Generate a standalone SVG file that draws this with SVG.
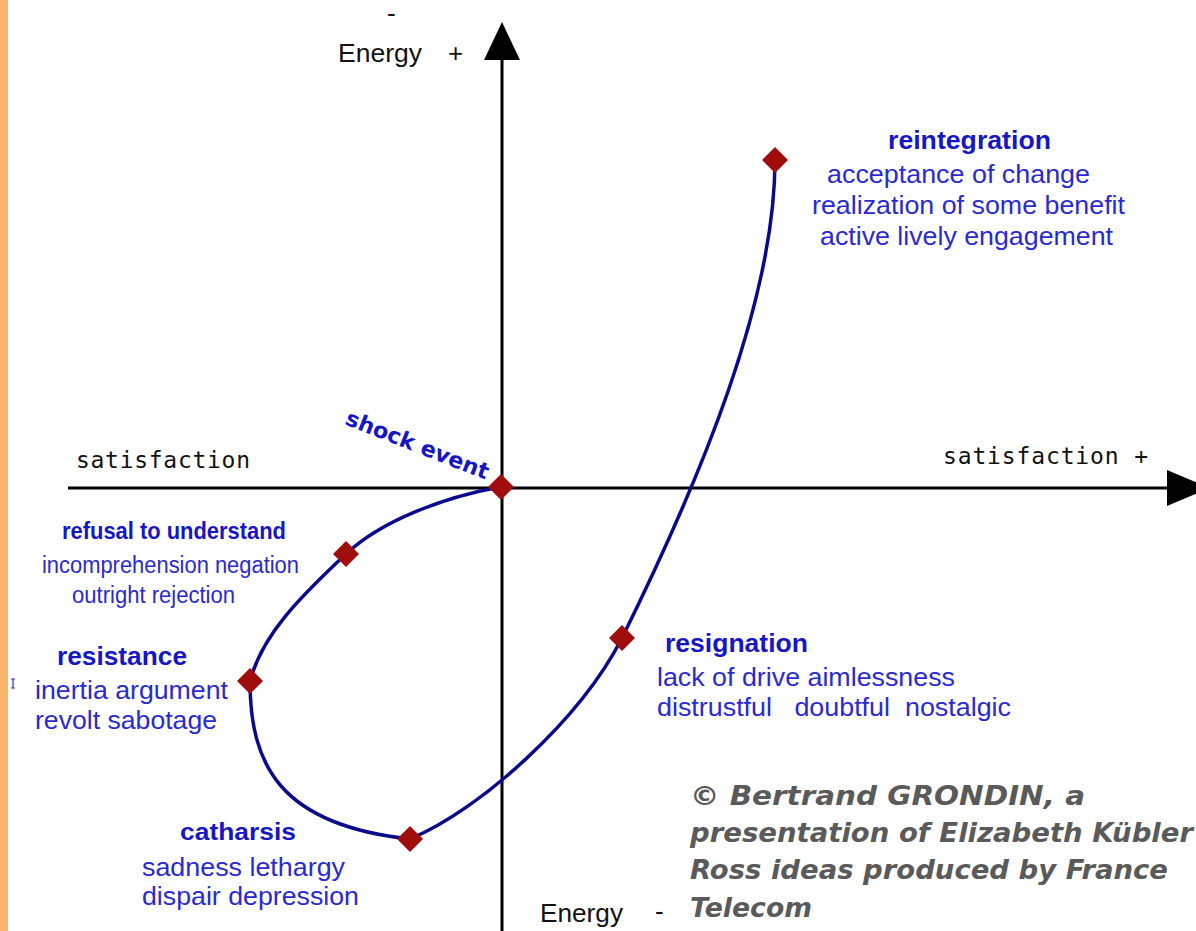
<svg xmlns="http://www.w3.org/2000/svg" width="1196" height="931" viewBox="0 0 1196 931">
  <style>
    .axis { stroke: #000; stroke-width: 3; fill: none; }
    .curve { stroke: #0a0a8c; stroke-width: 3.5; fill: none; }
    .dia { fill: #a00d0d; }
    .head { font-family: "Liberation Sans", Arial, sans-serif; font-weight: bold; fill: #1616c4; }
    .body { font-family: "Liberation Sans", Arial, sans-serif; fill: #2a2ad2; }
    .mono { font-family: "DejaVu Sans Mono", "Liberation Mono", monospace; font-size: 23px; fill: #111; }
    .ax { font-family: "Liberation Sans", Arial, sans-serif; font-size: 26px; fill: #111; }
    .copy { font-family: "DejaVu Sans", "Liberation Sans", sans-serif; font-weight: bold; font-style: italic; font-size: 27px; fill: #5a5a5a; }
    .shock { font-family: "DejaVu Sans", sans-serif; font-weight: bold; font-size: 22px; fill: #1616c4; }
  </style>
  <defs>
    <path id="d" d="M0,-13 L13,0 L0,13 L-13,0 Z"/>
  </defs>
  <rect x="0" y="0" width="1196" height="931" fill="#ffffff"/>
  <rect x="0" y="0" width="8" height="931" fill="#f7b26c"/>

  <g id="axes">
    <line class="axis" x1="502" y1="55" x2="502" y2="931"/>
    <polygon points="502,22 520,60 484,60" fill="#000"/>
    <line class="axis" x1="68" y1="488" x2="1170" y2="488"/>
    <polygon points="1167,470 1210,488 1167,506" fill="#000"/>
    <text class="ax" x="338" y="62" textLength="84" lengthAdjust="spacingAndGlyphs">Energy</text>
    <text class="ax" x="448" y="62" font-size="22">+</text>
    <text class="ax" x="387" y="22" font-size="16">-</text>
    <text class="ax" x="540" y="922" textLength="83" lengthAdjust="spacingAndGlyphs">Energy</text>
    <text class="ax" x="655" y="920" font-size="20">-</text>
    <text class="mono" x="76" y="468" textLength="174">satisfaction</text>
    <text class="mono" x="943" y="464" textLength="205">satisfaction +</text>
  </g>

  <g id="connectors">
    <path class="curve" d="M500,487 C440,498 380,522 346,554 C300,597 262,635 250,681 C250,765 280,825 410,839 C480,810 580,720 622,638 C700,480 775,300 775,160"/>
  </g>

  <g id="shock">
    <use href="#d" class="dia" x="501" y="487"/>
    <text class="shock" transform="translate(344,424) rotate(21.5)" textLength="152" lengthAdjust="spacingAndGlyphs">shock event</text>
  </g>

  <g id="refusal">
    <use href="#d" class="dia" x="346" y="554"/>
    <text class="head" x="62" y="539" font-size="24" textLength="224" lengthAdjust="spacingAndGlyphs">refusal to understand</text>
    <text class="body" x="42" y="573" font-size="23" textLength="257" lengthAdjust="spacingAndGlyphs">incomprehension negation</text>
    <text class="body" x="72" y="603" font-size="23" textLength="163" lengthAdjust="spacingAndGlyphs">outright rejection</text>
  </g>

  <g id="resistance">
    <use href="#d" class="dia" x="250" y="681"/>
    <text class="head" x="57" y="665" font-size="25" textLength="130" lengthAdjust="spacingAndGlyphs">resistance</text>
    <text class="body" x="35" y="699" font-size="25" textLength="193" lengthAdjust="spacingAndGlyphs">inertia argument</text>
    <text class="body" x="35" y="729" font-size="25" textLength="182" lengthAdjust="spacingAndGlyphs">revolt sabotage</text>
    <path d="M11,679 h4 M13,679 v9 M11,688 h4" stroke="#3030c0" stroke-width="1.2" fill="none"/>
  </g>

  <g id="catharsis">
    <use href="#d" class="dia" x="410" y="839"/>
    <text class="head" x="180" y="840" font-size="24" textLength="116" lengthAdjust="spacingAndGlyphs">catharsis</text>
    <text class="body" x="142" y="876" font-size="25" textLength="203" lengthAdjust="spacingAndGlyphs">sadness lethargy</text>
    <text class="body" x="142" y="905" font-size="25" textLength="217" lengthAdjust="spacingAndGlyphs">dispair depression</text>
  </g>

  <g id="resignation">
    <use href="#d" class="dia" x="622" y="638"/>
    <text class="head" x="665" y="652" font-size="25" textLength="143" lengthAdjust="spacingAndGlyphs">resignation</text>
    <text class="body" x="657" y="686" font-size="25" textLength="298" lengthAdjust="spacingAndGlyphs">lack of drive aimlessness</text>
    <text class="body" x="657" y="716" font-size="25" xml:space="preserve" textLength="354" lengthAdjust="spacingAndGlyphs">distrustful   doubtful  nostalgic</text>
  </g>

  <g id="reintegration">
    <use href="#d" class="dia" x="775" y="160"/>
    <text class="head" x="888" y="149" font-size="26" textLength="163" lengthAdjust="spacingAndGlyphs">reintegration</text>
    <text class="body" x="827" y="183" font-size="26" textLength="263" lengthAdjust="spacingAndGlyphs">acceptance of change</text>
    <text class="body" x="812" y="214" font-size="26" textLength="313" lengthAdjust="spacingAndGlyphs">realization of some benefit</text>
    <text class="body" x="820" y="245" font-size="26" textLength="293" lengthAdjust="spacingAndGlyphs">active lively engagement</text>
  </g>

  <g id="credit">
    <text class="copy" x="690" y="805" textLength="395" lengthAdjust="spacingAndGlyphs">© Bertrand GRONDIN, a</text>
    <text class="copy" x="690" y="842" textLength="503" lengthAdjust="spacingAndGlyphs">presentation of Elizabeth Kübler</text>
    <text class="copy" x="690" y="879" textLength="478" lengthAdjust="spacingAndGlyphs">Ross ideas produced by France</text>
    <text class="copy" x="690" y="917" textLength="122" lengthAdjust="spacingAndGlyphs">Telecom</text>
  </g>
</svg>
